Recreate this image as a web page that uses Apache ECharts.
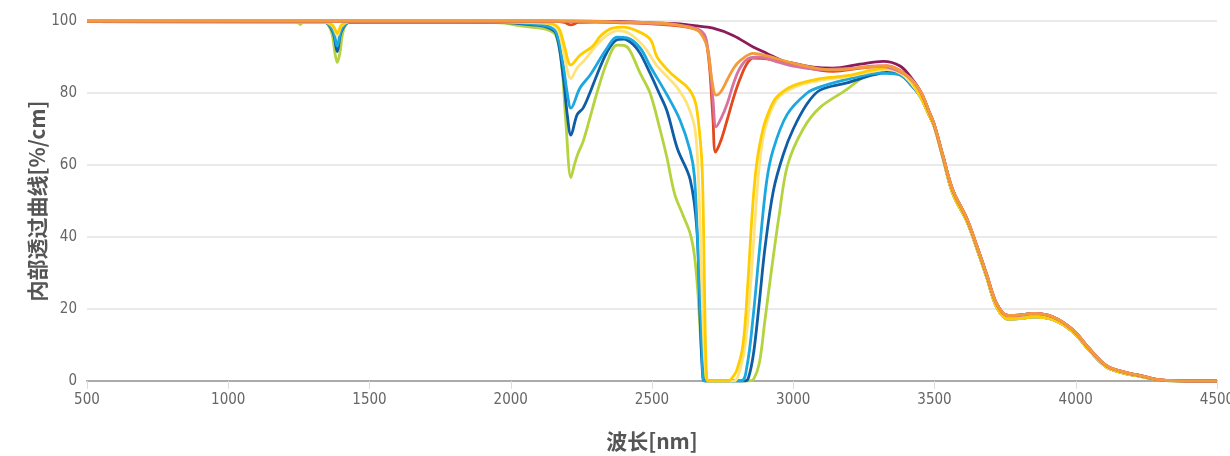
<!DOCTYPE html>
<html>
<head>
<meta charset="utf-8">
<script src="https://cdn.jsdelivr.net/npm/echarts@6/dist/echarts.min.js"></script>
<style>html,body{margin:0;padding:0;background:#fff}#c{width:1230px;height:456px}</style>
</head>
<body>
<div id="c"></div>
<script>
// Axis texts
const xName = '波长[nm]';
const yName = '内部透过曲线[%/cm]';
const xTicks = [500, 1000, 1500, 2000, 2500, 3000, 3500, 4000, 4500];
const yTicks = [0, 20, 40, 60, 80, 100];

// Series names
const seriesNames = ['S1','S2','S3','S4','S5','S6','S7','S8','S9'];

// Shared long-wavelength tails
const tailUpper = [[3450,80.5],[3480,75],[3500,71],[3530,62.5],[3565,53],[3615,45],[3650,37.5],[3685,29.5],[3720,21.5],[3760,18.2],[3800,18.3],[3850,18.8],[3920,17.8],[3990,14.2],[4050,8.8],[4110,4.2],[4180,2.3],[4230,1.5],[4300,0.3],[4400,0],[4500,0]];
const tailLower = [[3450,79],[3480,74],[3500,70.5],[3530,62],[3565,52],[3615,44.3],[3650,36.8],[3685,28.8],[3720,20.5],[3760,17.2],[3800,17.3],[3850,17.8],[3920,17],[3990,13.6],[4050,8.3],[4110,3.8],[4180,2],[4230,1.3],[4300,0.2],[4400,0],[4500,0]];

// Lower group
const green = [[500,99.8],[1200,99.8],[1245,99.7],[1255,99],[1265,99.7],[1340,99.6],[1365,97],[1378,91],[1386,88.5],[1395,91],[1408,97.5],[1430,99.6],[1600,99.8],[1900,99.7],[1980,99.4],[2030,98.7],[2080,98.2],[2130,97.6],[2160,96],[2180,88],[2195,72],[2213,56.5],[2225,60],[2237,63],[2256,66.5],[2280,73],[2305,80],[2341,88.6],[2376,93.3],[2400,93.2],[2420,92],[2458,85.5],[2493,80],[2528,70],[2553,62],[2580,52],[2610,46],[2635,41],[2650,35],[2662,25],[2672,12],[2682,3],[2690,0],[2720,0],[2845,0],[2860,0.5],[2880,5],[2900,17],[2925,32],[2950,46],[2980,60],[3035,70],[3095,76],[3190,81],[3247,84.4],[3307,86.2],[3350,86],[3390,84.5],[3415,82.5]];
const darkBlue = [[500,99.8],[1340,99.7],[1370,97],[1386,91.5],[1400,97],[1430,99.7],[1900,99.7],[2000,99.5],[2068,99],[2128,98.3],[2160,96.5],[2185,85],[2200,74],[2213,68.3],[2235,74],[2256,75.8],[2280,80],[2305,85],[2341,91.4],[2376,94.8],[2400,95],[2433,93.5],[2458,91],[2493,85.5],[2525,80],[2553,75],[2590,64.5],[2635,56],[2659,42],[2670,18],[2680,1],[2688,0],[2830,0],[2842,1],[2860,8],[2880,22],[2900,37],[2930,53],[2965,63],[3000,70],[3049,77],[3095,80.8],[3190,82.8],[3282,85],[3330,85.7],[3380,85],[3420,82]];
const lightBlue = [[500,99.8],[1340,99.7],[1370,97.5],[1386,93],[1400,97.5],[1430,99.7],[1900,99.7],[2000,99.6],[2068,99.2],[2128,98.6],[2160,97],[2185,88],[2200,80],[2213,75.8],[2245,81.4],[2281,85],[2341,92.5],[2376,95.5],[2412,95.3],[2458,92.5],[2493,87.5],[2553,79.5],[2599,72.5],[2635,64],[2650,57],[2663,36],[2677,8.6],[2685,0],[2815,0],[2836,4],[2858,17.8],[2880,36],[2905,55],[2928,64],[2978,74],[3049,80],[3095,81.7],[3212,84.2],[3307,85.5],[3378,85],[3420,82]];
const lightYellow = [[500,99.8],[1340,99.7],[1370,98.5],[1386,96],[1400,98.5],[1430,99.8],[1900,99.8],[2050,99.6],[2140,99.2],[2170,97],[2190,90],[2213,84],[2235,87],[2260,89],[2300,93],[2340,96],[2380,97.3],[2420,96.5],[2470,93],[2518,87.5],[2560,84],[2589,81.5],[2624,77],[2652,70],[2665,55],[2675,30],[2685,8],[2693,1],[2700,0],[2790,0],[2805,1.5],[2830,10],[2850,28],[2865,45],[2880,60],[2900,70],[2940,78],[3000,81.5],[3095,83.5],[3190,84.5],[3282,86],[3332,86.5],[3380,85.5],[3420,82.5]];
const gold = [[500,99.8],[1340,99.7],[1370,98.8],[1386,96.6],[1400,98.8],[1430,99.8],[1900,99.8],[2050,99.7],[2140,99.3],[2170,98],[2190,93],[2213,87.8],[2245,90.5],[2290,93],[2320,96],[2360,98],[2400,98.3],[2440,97.5],[2493,95],[2518,90],[2560,86],[2589,84],[2620,82],[2640,80],[2655,77],[2667,70],[2677,60],[2683,40],[2688,15],[2693,2],[2700,0],[2770,0],[2780,0.5],[2800,3],[2822,10],[2840,28],[2855,47],[2870,60],[2893,70],[2920,76],[2943,79],[2999,82],[3095,84],[3190,84.8],[3282,86.4],[3332,87],[3380,86],[3420,83]];

// Upper group
const purple = [[500,100],[2000,100],[2200,100],[2400,99.8],[2500,99.5],[2599,99.2],[2650,98.7],[2716,98],[2787,96],[2858,92.8],[2907,91],[2960,89],[2999,88.3],[3070,87.2],[3141,86.9],[3236,88],[3318,88.8],[3378,87.5],[3420,84]];
const red = [[500,100],[2150,100],[2190,99.6],[2213,98.9],[2240,99.6],[2300,99.7],[2400,99.5],[2500,99.2],[2600,98.6],[2660,97.6],[2685,96],[2695,93],[2705,86],[2716,72.5],[2725,63.6],[2745,67],[2766,72.5],[2790,79],[2812,84],[2835,88],[2858,89.7],[2907,89.5],[2999,87.8],[3141,86],[3247,87],[3332,87.5],[3400,85]];
const pink = [[500,100],[2200,100],[2400,99.6],[2500,99.3],[2600,98.8],[2660,97.8],[2685,96.3],[2695,93.5],[2705,88],[2716,78],[2727,70.6],[2745,73],[2766,77],[2790,83],[2812,87],[2840,89.5],[2880,90],[2950,88.5],[2999,87.5],[3100,86.5],[3200,86.8],[3300,87.5],[3400,85]];
const orange = [[500,100],[2200,100],[2400,99.7],[2550,99.3],[2599,98.8],[2650,97.8],[2670,96.8],[2695,92.8],[2712,83.6],[2727,79.4],[2745,80.5],[2766,83.6],[2790,87],[2812,89],[2858,91],[2907,90.3],[2999,88.3],[3141,86.4],[3260,87.2],[3332,87.5],[3400,85]];

const colors = ['#B4D33E','#0F5EA5','#1BA7DF','#FFE37A','#FFCC00','#8C1B5C','#E2491C','#D8739F','#F39B3B'];
const dataSets = [
  green.concat(tailLower),
  darkBlue.concat(tailLower),
  lightBlue.concat(tailLower),
  lightYellow.concat(tailLower),
  gold.concat(tailLower),
  purple.concat(tailUpper),
  red.concat(tailUpper),
  pink.concat(tailUpper),
  orange.concat(tailUpper)
];

const chart = echarts.init(document.getElementById('c'), null, {renderer: 'canvas'});
const labelFont = '"Liberation Sans Narrow","DejaVu Sans Condensed",sans-serif';
chart.setOption({
  animation: false,
  grid: {left: 87, right: 13, top: 21, bottom: 75, containLabel: false, outerBoundsMode: 'none'},
  xAxis: {
    type: 'value', min: xTicks[0], max: xTicks[xTicks.length - 1], interval: 500,
    name: xName, nameLocation: 'middle', nameGap: 50, nameMoveOverlap: false,
    nameTextStyle: {fontFamily: '"Noto Sans CJK SC"', fontWeight: 'bold', fontSize: 21, color: '#555'},
    axisLine: {lineStyle: {color: '#aaa', width: 2}},
    axisTick: {show: true, length: 8, lineStyle: {color: '#ddd'}},
    axisLabel: {color: '#666', fontSize: 15, fontFamily: labelFont, margin: 12, formatter: v => String(v), hideOverlap: false},
    splitLine: {show: false}
  },
  yAxis: {
    type: 'value', min: yTicks[0], max: yTicks[yTicks.length - 1], interval: 20,
    name: yName, nameLocation: 'middle', nameGap: 39, nameRotate: 90, nameMoveOverlap: false,
    nameTextStyle: {fontFamily: '"Noto Sans CJK SC"', fontWeight: 'bold', fontSize: 21, color: '#555'},
    axisLine: {show: false}, axisTick: {show: false},
    axisLabel: {color: '#666', fontSize: 15, fontFamily: labelFont, margin: 10, formatter: v => String(v)},
    splitLine: {lineStyle: {color: '#e3e3e3', width: 1.5}}
  },
  series: dataSets.map((d, i) => ({
    name: seriesNames[i], type: 'line', data: d, showSymbol: false, symbol: 'none',
    smooth: 0.35, lineStyle: {color: colors[i], width: 2.8}, itemStyle: {color: colors[i]},
    clip: true, z: 2 + i
  }))
});
</script>
</body>
</html>
